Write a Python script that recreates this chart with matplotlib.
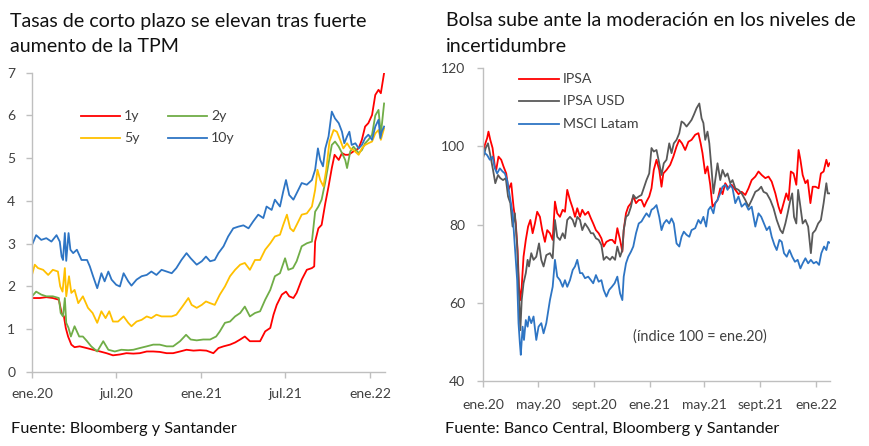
import matplotlib
matplotlib.use("Agg")
import matplotlib.pyplot as plt
from matplotlib.lines import Line2D
import pandas as pd

# ---------------- data: left chart (rates, %) ----------------
# day offsets from 2020-01-01 and values
days_1y = [0,17,31,45,58,64,69,73,78,85,92,103,118,132,147,161,175,190,204,219,
           233,248,262,276,291,305,320,334,349,363,377,392,403,414,428,439,450,460,471,482,
           493,504,515,522,529,540,549,556,565,572,583,594,605,610,612,619,626,634,641,648,
           654,663,670,677,684,695,706,713,720,727,735,742,749,754,761]
vals_1y = [1.73,1.73,1.75,1.73,1.69,1.38,1.3,1.03,0.83,0.64,0.58,0.6,0.56,0.52,0.48,0.44,0.39,0.41,0.44,0.43,
           0.44,0.48,0.48,0.47,0.44,0.44,0.48,0.52,0.5,0.51,0.5,0.44,0.56,0.6,0.64,0.69,0.76,0.83,0.72,0.72,
           0.72,0.95,1.03,1.34,1.57,1.81,1.88,1.77,1.73,1.85,2.16,2.39,2.43,2.47,3.05,3.36,3.44,3.95,4.34,4.77,
           5.08,4.96,5.12,5.08,5.08,5.16,5.23,5.43,5.74,5.82,6.01,6.48,6.6,6.52,6.99]

days_2y = [0,9,20,31,45,58,62,67,71,74,79,84,92,102,110,119,128,141,154,165,
           179,193,208,219,233,248,262,276,291,305,320,333,343,356,370,385,398,406,417,428,
           439,450,460,471,482,493,504,515,525,536,547,554,564,572,583,594,605,612,619,626,
           634,641,648,655,663,670,677,681,688,695,706,713,720,727,735,742,749,754,761]
vals_2y = [1.77,1.88,1.81,1.77,1.77,1.73,1.38,1.3,1.73,1.15,1.03,0.83,1.07,0.83,0.83,0.72,0.6,0.48,0.72,0.52,
           0.48,0.52,0.51,0.52,0.56,0.6,0.64,0.64,0.6,0.6,0.72,0.87,0.76,0.74,0.76,0.76,0.83,0.95,1.15,1.18,
           1.3,1.38,1.53,1.3,1.38,1.42,1.69,1.92,2.24,2.31,2.66,2.39,2.43,2.59,2.94,3.01,3.05,3.75,3.87,4.03,
           4.45,4.88,5.31,5.39,5.27,5.12,4.96,4.77,5.16,5.27,5.12,5.19,5.35,5.43,5.55,6.0,6.13,5.55,6.28]

days_5y = [0,6,13,24,35,45,56,61,66,71,74,80,85,92,100,110,121,131,141,150,
           159,167,175,186,198,208,215,226,237,248,258,269,280,291,302,312,325,338,345,356,
           367,376,385,395,406,417,428,439,450,460,471,482,493,504,515,525,536,543,551,558,
           565,572,583,594,605,612,617,623,630,636,643,652,659,666,673,681,688,695,706,713,
           720,727,735,742,749,754,761]
vals_5y = [2.27,2.51,2.43,2.39,2.27,2.39,2.35,2.0,1.88,2.43,1.77,2.24,1.85,1.92,1.61,1.77,1.5,1.38,1.15,1.42,
           1.26,1.42,1.18,1.18,1.3,1.15,1.07,1.18,1.22,1.3,1.26,1.34,1.3,1.3,1.3,1.34,1.53,1.73,1.57,1.5,
           1.57,1.65,1.61,1.57,1.81,2.0,2.24,2.39,2.51,2.55,2.39,2.62,2.62,2.86,3.01,3.17,3.21,3.44,3.68,3.36,
           3.29,3.44,3.68,3.71,3.87,4.26,4.73,4.49,4.34,4.73,5.39,5.66,5.62,5.43,5.23,5.35,5.23,5.19,5.08,5.23,
           5.31,5.35,5.39,5.58,5.66,5.43,5.7]

days_10y = [0,9,20,31,42,53,60,64,67,71,74,79,83,89,97,107,119,125,132,141,
            150,157,165,172,182,190,198,208,215,226,237,248,258,269,280,291,302,312,323,334,
            343,356,367,376,385,395,403,414,424,435,446,457,468,478,489,500,507,518,525,536,
            543,549,556,565,572,583,594,605,612,618,623,629,634,641,648,655,663,670,675,681,
            686,691,699,706,713,720,727,735,742,749,753,756,761]
vals_10y = [2.97,3.2,3.09,3.13,3.05,3.2,3.05,2.7,2.62,3.25,2.6,3.25,2.86,2.78,2.86,2.62,2.62,2.47,2.24,1.96,
            2.31,2.12,2.35,2.16,2.04,2.0,2.31,2.12,2.02,2.16,2.24,2.27,2.35,2.27,2.39,2.35,2.31,2.43,2.62,2.78,
            2.66,2.51,2.59,2.7,2.59,2.62,2.78,2.94,3.17,3.36,3.4,3.43,3.36,3.52,3.68,3.6,3.87,3.79,4.03,3.87,
            4.22,4.49,4.14,4.03,4.18,4.42,4.38,4.49,4.73,5.23,4.96,4.81,5.23,5.51,6.09,5.93,5.82,5.62,5.35,5.51,
            5.62,5.31,5.35,5.23,5.31,5.47,5.55,5.43,5.74,5.9,5.47,5.62,5.74]

left_ticks = ["2020-01-01", "2020-07-01", "2021-01-01", "2021-07-01", "2022-01-01"]
left_ticklabels = ["ene.20", "jul.20", "ene.21", "jul.21", "ene.22"]

# ---------------- data: right chart (index 100 = ene.20) ----------------
days_ipsa = [0,4,9,12,16,21,26,29,34,40,45,51,56,62,67,72,76,79,82,85,
             89,94,99,104,109,114,119,125,130,136,141,147,153,158,163,169,175,180,185,191,
             197,202,207,213,218,224,231,237,242,248,254,260,265,271,279,284,290,295,301,306,
             309,314,319,325,330,336,342,348,354,359,365,370,375,381,387,392,396,403,411,418,
             425,431,437,444,451,458,466,473,478,482,488,493,499,504,510,515,521,526,532,539,
             546,554,561,568,576,583,590,598,605,612,620,627,634,642,649,654,660,666,671,676,
             682,688,693,697,702,708,713,719,724,730,737,742,748,754,758,761]
vals_ipsa = [97.4,100.4,102.1,103.8,101.7,99.6,94.9,94,97.4,96.6,94.9,93.1,88.9,90.6,84.6,80.3,73.5,64.1,60.7,64.1,
             71.8,76.1,79.5,81.2,77.8,80.3,83.3,82,78.6,75.6,78.6,77.8,76.1,85.9,82.9,82,83.8,83.3,88.9,86.3,
             84.2,82,84.2,82,83.8,82.5,83.3,81.6,80.3,78.6,77.8,76.5,74.4,75.6,76.1,76.1,75.2,79.1,76.1,73.1,
             78.6,82.9,84.6,85.5,87.2,85.5,86.3,86.3,84.6,85.9,87.2,89.3,94,96.6,94,89.7,93.1,94,95.3,97.4,
             100,101.7,100.8,99.1,101.2,101.7,103,103.4,100.8,98.3,93.1,94.9,90.2,84.6,85.5,86.3,89.3,87.8,90.6,89.3,
             90.2,88.9,87.8,88.4,87.6,89.3,91.4,92.3,93.6,92.7,91.9,92.3,91,88,84.6,82.9,85.5,88,86.3,93.6,
             93.1,90.2,99.1,96.6,92.7,90.6,91.4,85.5,89.7,89.7,89.3,93.1,93.6,96.6,94.9,95.7]

days_usd = [0,6,11,16,22,27,33,38,44,50,55,60,65,70,75,79,82,85,89,94,
            98,101,106,111,117,123,128,133,139,147,153,158,163,169,175,180,185,191,197,202,
            207,213,218,224,231,237,242,248,254,260,265,271,279,284,290,295,301,306,309,314,
            319,325,330,336,342,348,354,359,365,370,375,381,387,392,397,403,409,414,419,425,
            431,436,441,447,453,458,463,469,475,480,484,488,493,497,502,506,510,515,521,526,
            532,537,543,548,554,561,568,576,583,590,598,605,611,616,623,631,638,645,653,658,
            664,669,675,679,683,688,692,697,702,708,714,720,724,730,736,742,748,754,757,761]
vals_usd = [97,99.6,100.8,97.8,94,90.6,92.7,91.9,91.4,91.9,87.2,85.5,79.5,82.9,74.4,62.4,53,60.7,65,67.6,
            71,69.3,72.7,71,71.8,75.2,71,69.3,72.2,72.7,71.4,81.2,76.9,76.1,77.8,76.5,81.2,82,81.2,79.5,
            82,81.2,78.6,80.3,79.1,77.8,77.8,76.5,76.1,74.8,71,71.8,71,71.8,71,74.4,71.8,73.5,78.6,82,
            82.5,84.6,87.6,86.7,87.2,87.6,89.7,91.4,93.1,99.6,98.7,99.1,95.7,92.7,95.7,96.6,100.8,98.3,100.8,101.7,
            103.4,106.4,106,105.1,106,106.8,108.1,109.8,111,107.2,106,101.7,103.8,100.8,94,88,91.4,95.7,91.4,94,
            92.3,93.1,90.6,91.4,89.3,88.9,88,86.3,84.6,86.3,88.4,88.9,89.7,88.4,88,86.3,84.2,81.2,78.6,77.8,
            80.3,82.9,86.3,88,82,80.3,88.9,84.6,80.3,81.2,79.5,72.7,77.8,78.6,80.3,81.2,85.5,90.6,88,88]

days_msci = [0,4,9,15,21,26,31,37,43,48,53,59,65,70,75,78,81,83,87,90,
             94,98,101,106,111,117,122,128,133,139,147,153,158,163,169,175,180,185,191,197,
             202,207,213,218,224,231,237,242,248,254,260,265,271,277,283,289,295,301,306,309,
             314,319,325,330,336,342,348,354,359,365,370,375,381,387,392,397,403,409,414,419,
             425,431,436,441,447,453,458,466,473,478,484,490,495,500,506,510,515,521,526,532,
             537,543,548,554,561,568,576,583,590,598,605,611,617,623,629,634,640,645,651,656,
             661,667,673,679,685,691,697,702,708,714,720,726,732,738,743,749,754,758,761]
vals_msci = [100,98.3,97.8,96.6,97.4,94.4,93.1,94.4,93.6,93.1,91.4,87.2,82.9,74.4,65.8,54.8,49.6,46.7,53.9,50.5,
             55.6,53.9,56.5,54.8,56.5,50.5,53.9,54.8,52.2,54.8,60.7,64.1,71,66.7,65.8,64.1,65.8,64.1,65.8,68.4,
             69.3,71,67.6,67.6,66.3,66.7,65.8,65,67.1,65.4,65.8,63.3,61.6,63.3,64.1,65,66.7,62.4,60.7,66.7,
             70.1,71.8,73.1,74.4,77.8,80.3,80.8,82,82.9,82,83.8,84.2,85,82,78.6,80.3,81.2,80.3,81.6,80.3,
             75.2,74.4,76.9,78.2,77.4,76.9,78.6,79.1,81.2,80.3,82,79.5,83.8,84.6,82.9,85.5,86.3,88,89.7,90.2,
             88.9,90.2,89.3,85.5,87.2,84.6,85.5,83.8,84.6,79.5,82.9,82,80.3,78.6,79.5,76.9,74.8,73.5,76.1,75.6,
             72.7,71.8,73.5,71.8,70.5,71,68.8,70.1,71.4,70.1,71,70.1,70.5,69.7,72.7,74.4,73.5,75.6,75.4]

right_ticks = ["2020-01-01", "2020-05-01", "2020-09-01", "2021-01-01", "2021-05-01", "2021-09-01", "2022-01-01"]
right_ticklabels = ["ene.20", "may.20", "sept.20", "ene.21", "may.21", "sept.21", "ene.22"]

title_left = ["Tasas de corto plazo se elevan tras fuerte", "aumento de la TPM"]
title_right = ["Bolsa sube ante la moderación en los niveles de", "incertidumbre"]
source_left = "Fuente: Bloomberg y Santander"
source_right = "Fuente: Banco Central, Bloomberg y Santander"
note_right = "(índice 100 = ene.20)"

# ---------------- styling ----------------
plt.rcParams['font.family'] = ['Lato', 'DejaVu Sans']
W, H = 869, 446
RED, GREEN, YELLOW, BLUE, GRAY = "#FF0000", "#70AD47", "#FFC000", "#2E75C4", "#595959"
AX_COL = "#BFBFBF"
TXT = "#404040"
DARK = "#111111"
LW = 1.3

base = pd.Timestamp("2020-01-01")
def to_dates(days):
    return base + pd.to_timedelta(days, unit="D")

fig = plt.figure(figsize=(W / 100, H / 100), dpi=100)
renderer = fig.canvas.get_renderer()

def fx(x):
    return x / W
def fy(y):
    return 1 - y / H

def fit_size(text, target_px, guess=12.0):
    """font size (pt) so that `text` spans target_px pixels"""
    t = fig.text(0, 0, text, fontsize=guess)
    w = t.get_window_extent(renderer=renderer).width
    t.remove()
    return guess * target_px / w

TICK_FS = fit_size("ene.20", 42, 10)
TITLE_FS = (fit_size(title_left[0], 352, 13) + fit_size(title_right[0], 412, 13)) / 2
SRC_FS = (fit_size(source_left, 225, 12) + fit_size(source_right, 335, 12)) / 2
NOTE_FS = fit_size(note_right, 134, 10)
LEG_FS = fit_size("MSCI Latam", 75, 10)

def style_axes(ax, ticks, labels, xpad, ypad):
    for s in ("top", "right"):
        ax.spines[s].set_visible(False)
    for s in ("left", "bottom"):
        ax.spines[s].set_color(AX_COL)
        ax.spines[s].set_linewidth(1.0)
    ax.set_xticks(pd.to_datetime(ticks))
    ax.set_xticklabels(labels)
    ax.tick_params(axis="both", colors=AX_COL, labelcolor=TXT, labelsize=TICK_FS,
                   length=4, width=1.0, direction="out")
    ax.tick_params(axis="x", pad=xpad)
    ax.tick_params(axis="y", pad=ypad)

# left axes
axL = fig.add_axes([fx(32), fy(372), fx(385 - 32), (372 - 72.7) / H])
axL.plot(to_dates(days_1y), vals_1y, color=RED, lw=LW)
axL.plot(to_dates(days_2y), vals_2y, color=GREEN, lw=LW)
axL.plot(to_dates(days_5y), vals_5y, color=YELLOW, lw=LW)
axL.plot(to_dates(days_10y), vals_10y, color=BLUE, lw=LW)
axL.set_ylim(0, 7)
axL.set_yticks(range(0, 8))
axL.set_xlim(base, base + pd.Timedelta(days=763))
style_axes(axL, left_ticks, left_ticklabels, 7.5, 8)

# right axes
axR = fig.add_axes([fx(483), fy(381), fx(830 - 483), (381 - 68.3) / H])
axR.plot(to_dates(days_ipsa), vals_ipsa, color=RED, lw=LW)
axR.plot(to_dates(days_usd), vals_usd, color=GRAY, lw=LW)
axR.plot(to_dates(days_msci), vals_msci, color=BLUE, lw=LW)
axR.set_ylim(40, 120)
axR.set_yticks(range(40, 121, 20))
axR.set_xlim(base, base + pd.Timedelta(days=762))
style_axes(axR, right_ticks, right_ticklabels, 9, 9)

# titles
for i, line in enumerate(title_left):
    fig.text(fx(10), fy(26.5 + 26 * i), line, fontsize=TITLE_FS, color=DARK, va="baseline", ha="left")
for i, line in enumerate(title_right):
    fig.text(fx(446), fy(26.5 + 26 * i), line, fontsize=TITLE_FS, color=DARK, va="baseline", ha="left")

# sources
fig.text(fx(11), fy(433), source_left, fontsize=SRC_FS, color=DARK, va="baseline", ha="left")
fig.text(fx(445), fy(433), source_right, fontsize=SRC_FS, color=DARK, va="baseline", ha="left")

# note
fig.text(fx(633), fy(337), note_right, fontsize=NOTE_FS, color=TXT, va="center", ha="left")

# legends (manual)
def legend_item(x0, x1, y, color, label):
    fig.add_artist(Line2D([fx(x0), fx(x1)], [fy(y), fy(y)], color=color, lw=LW,
                          transform=fig.transFigure))
    fig.text(fx(x1 + 4), fy(y), label, fontsize=LEG_FS, color=TXT, va="center", ha="left")

legend_item(81, 120, 116, RED, "1y")
legend_item(168, 207, 116, GREEN, "2y")
legend_item(81, 120, 138, YELLOW, "5y")
legend_item(168, 207, 138, BLUE, "10y")

legend_item(519, 559, 79, RED, "IPSA")
legend_item(519, 559, 101, GRAY, "IPSA USD")
legend_item(519, 559, 124, BLUE, "MSCI Latam")

fig.savefig("out.png", dpi=100, facecolor="white")
